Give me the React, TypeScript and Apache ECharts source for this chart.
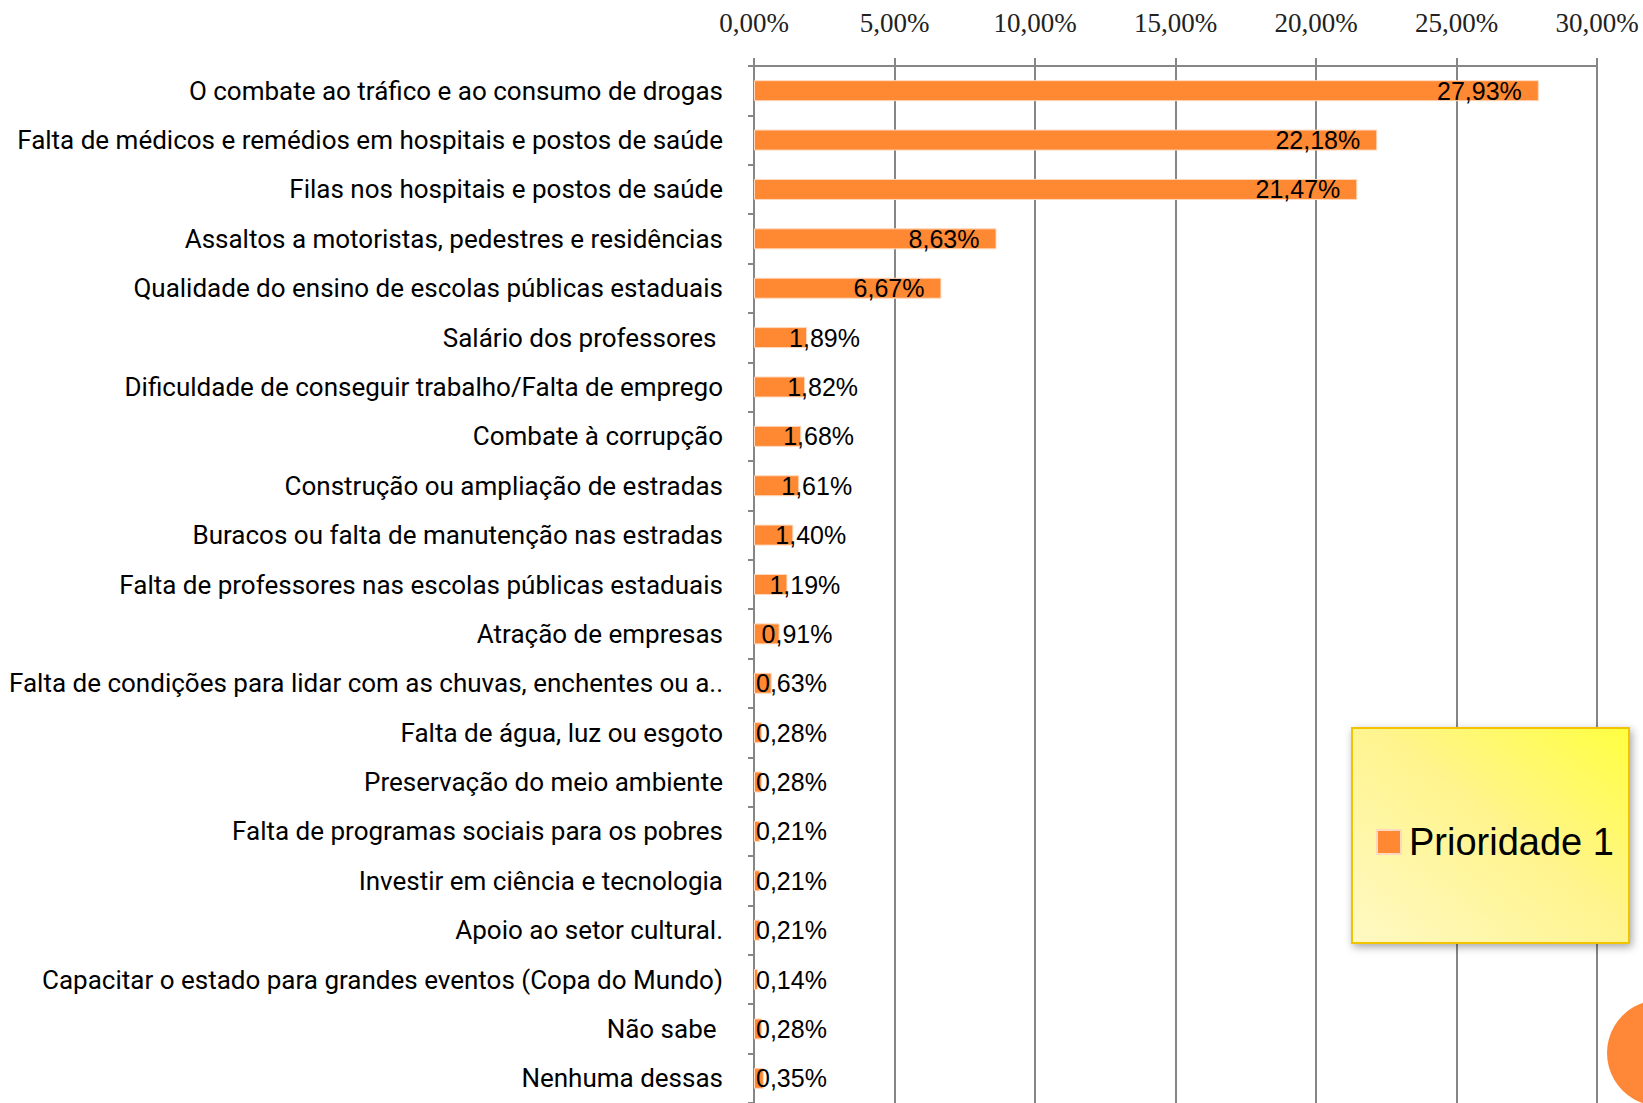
import React, { useEffect, useRef } from "react";
import * as echarts from "echarts";

const categories = [
  "O combate ao tráfico e ao consumo de drogas",
  "Falta de médicos e remédios em hospitais e postos de saúde",
  "Filas nos hospitais e postos de saúde",
  "Assaltos a motoristas, pedestres e residências",
  "Qualidade do ensino de escolas públicas estaduais",
  "Salário dos professores ",
  "Dificuldade de conseguir trabalho/Falta de emprego",
  "Combate à corrupção",
  "Construção ou ampliação de estradas",
  "Buracos ou falta de manutenção nas estradas",
  "Falta de professores nas escolas públicas estaduais",
  "Atração de empresas",
  "Falta de condições para lidar com as chuvas, enchentes ou a..",
  "Falta de água, luz ou esgoto",
  "Preservação do meio ambiente",
  "Falta de programas sociais para os pobres",
  "Investir em ciência e tecnologia",
  "Apoio ao setor cultural.",
  "Capacitar o estado para grandes eventos (Copa do Mundo)",
  "Não sabe ",
  "Nenhuma dessas",
];

const values = [
  27.93, 22.18, 21.47, 8.63, 6.67, 1.89, 1.82, 1.68, 1.61, 1.4, 1.19, 0.91,
  0.63, 0.28, 0.28, 0.21, 0.21, 0.21, 0.14, 0.28, 0.35,
];

const seriesName = "Prioridade 1";
const axisMin = 0;
const axisMax = 30;
const axisInterval = 5;

const ORANGE = "#FF8833";
const GRID_GRAY = "#868686";

const pct = (v: number) => v.toFixed(2).replace(".", ",") + "%";

export default function App() {
  const ref = useRef<HTMLDivElement>(null);

  useEffect(() => {
    if (!ref.current) return;
    const chart = echarts.init(ref.current, undefined, { renderer: "svg" });

    const data = values.map((v) => {
      let label: any;
      if (v >= 5) {
        label = { position: "insideRight", distance: 17 };
      } else if (v >= 0.7) {
        label = { position: "right", offset: [-23, 0] };
      } else {
        label = { position: "insideLeft", distance: 2 };
      }
      return { value: v, label };
    });

    chart.setOption({
      animation: false,
      backgroundColor: "#ffffff",
      grid: {
        left: 754,
        right: 46,
        top: 66,
        bottom: 0,
        containLabel: false,
        outerBoundsMode: "none",
      },
      xAxis: {
        type: "value",
        position: "top",
        min: axisMin,
        max: axisMax,
        interval: axisInterval,
        axisLine: { show: true, lineStyle: { color: GRID_GRAY, width: 2 } },
        axisTick: { show: true, length: 8, lineStyle: { color: GRID_GRAY, width: 2 } },
        splitLine: { show: true, lineStyle: { color: GRID_GRAY, width: 2 } },
        axisLabel: {
          margin: 30,
          color: "#222",
          fontSize: 27,
          fontFamily: "Liberation Serif",
          formatter: (v: number) => pct(v),
        },
      },
      yAxis: {
        type: "category",
        inverse: true,
        data: categories,
        axisLine: { show: true, lineStyle: { color: GRID_GRAY, width: 2 } },
        axisTick: { show: true, length: 6, lineStyle: { color: GRID_GRAY, width: 2 } },
        axisLabel: {
          margin: 31,
          color: "#000",
          fontSize: 26,
          fontFamily: "Roboto",
        },
      },
      legend: {
        show: true,
        left: 1371,
        top: 818,
        z: 10,
        icon: "rect",
        itemWidth: 24,
        itemHeight: 24,
        data: [seriesName],
        textStyle: {
          fontSize: 38,
          color: "#000",
          fontFamily: "Liberation Sans",
          padding: [0, 0, 0, 3],
        },
      },
      graphic: [
        {
          type: "rect",
          z: 3,
          shape: { x: 1352, y: 728, width: 277, height: 215 },
          style: {
            fill: new echarts.graphic.LinearGradient(0, 1, 1, 0, [
              { offset: 0, color: "#FFF9C4" },
              { offset: 0.55, color: "#FFF48C" },
              { offset: 1, color: "#FFFF40" },
            ]),
            stroke: "#F2C400",
            lineWidth: 2,
            shadowBlur: 8,
            shadowColor: "rgba(0,0,0,0.35)",
            shadowOffsetX: 2,
            shadowOffsetY: 3,
          },
        },
        {
          type: "circle",
          z: 3,
          shape: { cx: 1660, cy: 1053, r: 53 },
          style: { fill: "#FF8838" },
        },
      ],
      series: [
        {
          name: seriesName,
          type: "bar",
          data,
          barWidth: 21,
          itemStyle: { color: ORANGE, borderColor: "#FFD9BE", borderWidth: 1 },
          label: {
            show: true,
            color: "#000",
            fontSize: 25,
            fontFamily: "Liberation Sans",
            formatter: (p: any) => pct(p.value),
          },
        },
      ],
    });

    return () => chart.dispose();
  }, []);

  return (
    <div
      ref={ref}
      style={{ position: "absolute", left: 0, top: 0, width: 1643, height: 1103 }}
    />
  );
}
